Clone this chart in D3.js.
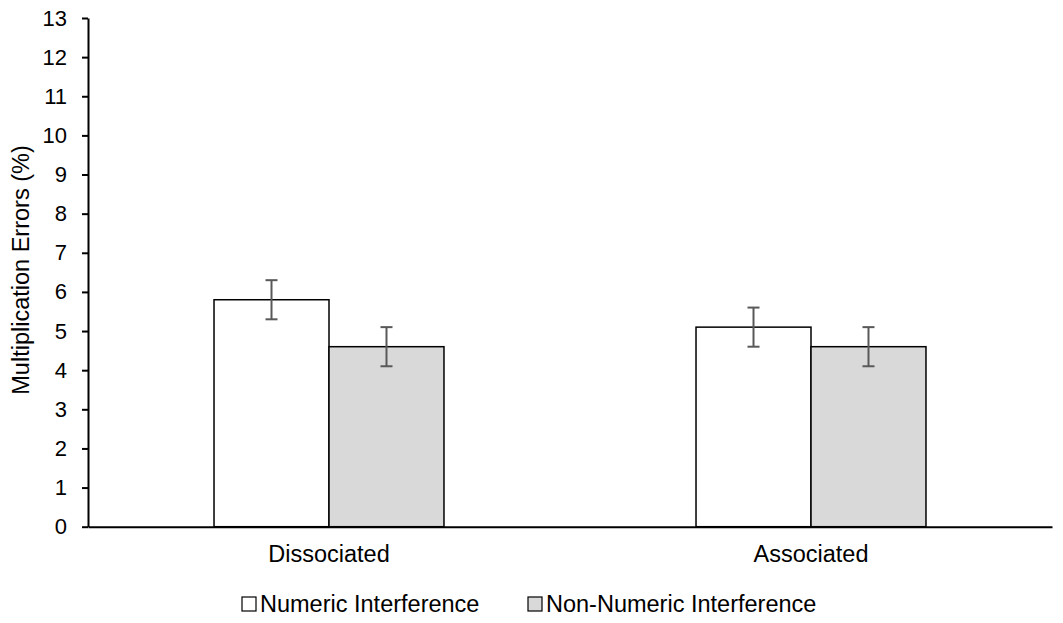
<!DOCTYPE html>
<html lang="en">
<head>
    <meta charset="UTF-8">
    <title>Multiplication Errors</title>
    <script src="https://d3js.org/d3.v7.min.js"></script>
    <style>
        body { margin: 0; background: #fff; }
        svg text { font-family: "Liberation Sans", Arial, sans-serif; fill: #000; }
    </style>
</head>
<body>
    <svg id="chart" width="1063" height="623"></svg>

    <script>
        const categories = ["Dissociated", "Associated"];
        const series = ["Numeric Interference", "Non-Numeric Interference"];
        const seriesColors = ["#ffffff", "#d9d9d9"];
        const numericValues = [5.8, 5.1];
        const nonNumericValues = [4.6, 4.6];
        const numericErrors = [0.5, 0.5];
        const nonNumericErrors = [0.5, 0.5];
        const yTicks = [0, 1, 2, 3, 4, 5, 6, 7, 8, 9, 10, 11, 12, 13];

        const data = categories.map((c, i) => ({
            category: c,
            values: [
                { key: series[0], value: numericValues[i], err: numericErrors[i] },
                { key: series[1], value: nonNumericValues[i], err: nonNumericErrors[i] }
            ]
        }));

        const svg = d3.select("#chart");
        const margin = { top: 18, right: 11, bottom: 96.3, left: 88 };
        const width = +svg.attr("width") - margin.left - margin.right;
        const height = +svg.attr("height") - margin.top - margin.bottom;

        const g = svg.append("g")
            .attr("transform", `translate(${margin.left},${margin.top})`);

        const x0 = d3.scaleBand()
            .domain(categories)
            .range([0, width])
            .padding(0);

        const x1 = d3.scaleBand()
            .domain(series)
            .range([0, x0.bandwidth()])
            .paddingInner(0)
            .paddingOuter(1.096);

        const y = d3.scaleLinear()
            .domain([0, 13])
            .range([height, 0]);

        const color = d3.scaleOrdinal().domain(series).range(seriesColors);

        // bars
        const groups = g.append("g")
            .selectAll("g")
            .data(data)
            .enter()
            .append("g")
            .attr("transform", d => `translate(${x0(d.category)},0)`);

        groups.selectAll("rect")
            .data(d => d.values)
            .enter()
            .append("rect")
            .attr("x", d => x1(d.key))
            .attr("y", d => y(d.value))
            .attr("width", x1.bandwidth())
            .attr("height", d => height - y(d.value))
            .attr("fill", d => color(d.key))
            .attr("stroke", "#000")
            .attr("stroke-width", 1.5);

        // error bars
        const capHalf = 6;
        const errs = groups.selectAll("g.err")
            .data(d => d.values)
            .enter()
            .append("g")
            .attr("class", "err")
            .attr("stroke", "#595959")
            .attr("stroke-width", 2);

        errs.append("line")
            .attr("x1", d => x1(d.key) + x1.bandwidth() / 2)
            .attr("x2", d => x1(d.key) + x1.bandwidth() / 2)
            .attr("y1", d => y(d.value + d.err))
            .attr("y2", d => y(d.value - d.err));

        errs.selectAll("line.cap")
            .data(d => [d.value + d.err, d.value - d.err].map(v => ({ key: d.key, v })))
            .enter()
            .append("line")
            .attr("class", "cap")
            .attr("x1", d => x1(d.key) + x1.bandwidth() / 2 - capHalf)
            .attr("x2", d => x1(d.key) + x1.bandwidth() / 2 + capHalf)
            .attr("y1", d => y(d.v))
            .attr("y2", d => y(d.v));

        // y axis
        const yAxis = g.append("g")
            .call(d3.axisLeft(y).tickValues(yTicks).tickSize(6).tickSizeOuter(0).tickPadding(15));
        yAxis.select(".domain").attr("stroke", "#000").attr("stroke-width", 2);
        yAxis.selectAll(".tick line").attr("stroke", "#000").attr("stroke-width", 2);
        yAxis.selectAll(".tick text").style("font-size", "22px");

        // x axis
        const xAxis = g.append("g")
            .attr("transform", `translate(0,${height})`)
            .call(d3.axisBottom(x0).tickSize(0).tickSizeOuter(0).tickPadding(0));
        xAxis.select(".domain").attr("stroke", "#000").attr("stroke-width", 2);
        xAxis.selectAll(".tick text")
            .attr("dy", null)
            .attr("y", 35.5)
            .style("font-size", "23.5px");

        // y label
        svg.append("text")
            .attr("text-anchor", "middle")
            .attr("transform", `translate(29, 270)rotate(-90)`)
            .style("font-size", "23.5px")
            .text("Multiplication Errors (%)");

        // legend
        const legendX = [242, 528];
        const legend = svg.append("g")
            .selectAll("g")
            .data(series)
            .enter()
            .append("g")
            .attr("transform", (d, i) => `translate(${legendX[i]}, 597)`);

        legend.append("rect")
            .attr("width", 14)
            .attr("height", 14)
            .attr("fill", d => color(d))
            .attr("stroke", "#000")
            .attr("stroke-width", 1.2);

        legend.append("text")
            .attr("x", 18)
            .attr("y", 15)
            .style("font-size", "23.5px")
            .text(d => d);
    </script>
</body>
</html>
